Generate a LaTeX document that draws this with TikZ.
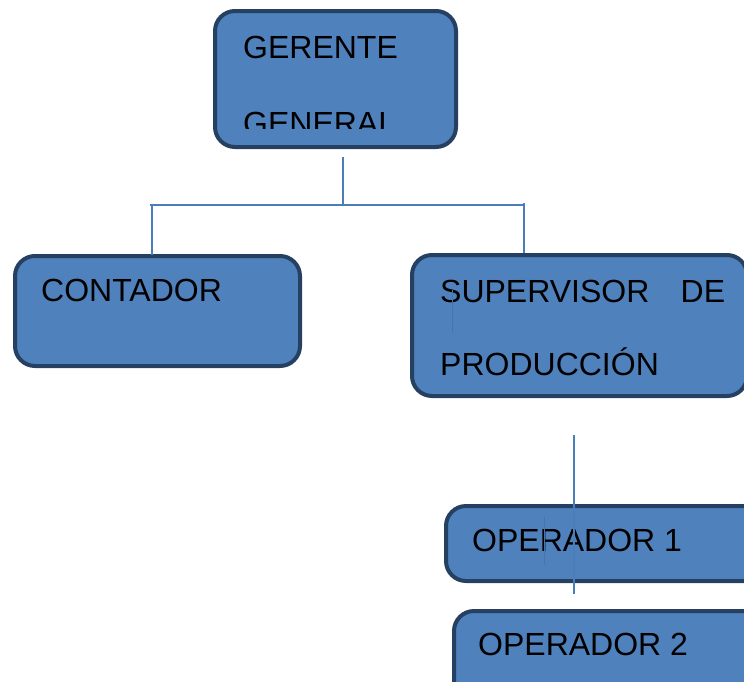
\documentclass[tikz,border=0pt]{standalone}
\usepackage{fontspec}
\setmainfont{Liberation Sans}
\definecolor{boxfill}{RGB}{79,129,189}
\definecolor{boxedge}{RGB}{38,64,98}
\definecolor{conn}{RGB}{74,126,187}
\definecolor{faintin}{RGB}{70,116,172}
\tikzset{
  orgbox/.style={fill=boxfill, draw=boxedge, line width=4pt, rounded corners=20pt},
  lbl/.style={anchor=base west, inner sep=0pt, font=\fontsize{32}{38}\selectfont, text=black},
  link/.style={draw=conn, line width=1.6pt},
  innerlink/.style={draw=faintin, line width=1pt},
}
\begin{document}
\begin{tikzpicture}[x=1pt,y=-1pt]
\useasboundingbox (0,0) rectangle (744,681);
\clip (0,0) rectangle (744,681);
% boxes
\path[orgbox] (215,11) rectangle (456,147);
\node[inner sep=0pt, minimum width=241pt, minimum height=136pt] (ger) at (335.5,79) {};
\path[orgbox] (15,256) rectangle (300,366);
\node[inner sep=0pt, minimum width=285pt, minimum height=110pt] (con) at (157.5,311) {};
\path[orgbox] (412,255) rectangle (747,396);
\node[inner sep=0pt, minimum width=335pt, minimum height=141pt] (sup) at (579.5,325.5) {};
\path[orgbox] (446,506) rectangle (800,581);
\node[inner sep=0pt, minimum width=354pt, minimum height=75pt] (op1) at (623,543.5) {};
\path[orgbox] (454,611) rectangle (800,730);
\node[inner sep=0pt, minimum width=346pt, minimum height=119pt] (op2) at (627,670.5) {};
% texts
\node[lbl] (t1) at (243,58) {GERENTE};
\begin{scope}
\clip (215,11) rectangle (456,128);
\node[lbl] (t2) at (243,134) {GENERAL};
\end{scope}
\node[lbl] (t3) at (41,301) {CONTADOR};
\node[lbl] (t4) at (440,302) {\makebox[285pt][l]{SUPERVISOR\hfill DE}};
\node[lbl] (t5) at (440,375) {PRODUCCIÓN};
\node[lbl] (t6) at (472,551) {OPERADOR 1};
\node[lbl] (t7) at (478,655) {OPERADOR 2};
% connector coordinates
\coordinate (g1) at (343,157);
\coordinate (g2) at (343,205);
\coordinate (h1) at (150,205);
\coordinate (h2) at (525,205);
\coordinate (cl1) at (152,205);
\coordinate (cl2) at (152,255);
\coordinate (cr1) at (524,203);
\coordinate (cr2) at (524,253);
\coordinate (s1) at (452,290);
\coordinate (s2) at (452,333);
\coordinate (v1) at (574,435);
\coordinate (v2) at (574,594);
\coordinate (o1) at (544,517);
\coordinate (o2) at (544,565);
% connectors
\draw[link] (g1) -- (g2);
\draw[link] (h1) -- (h2);
\draw[link] (cl1) -- (cl2);
\draw[link] (cr1) -- (cr2);
\draw[innerlink] (s1) -- (s2);
\draw[link] (v1) -- (v2);
\draw[innerlink] (o1) -- (o2);
\end{tikzpicture}
\end{document}
